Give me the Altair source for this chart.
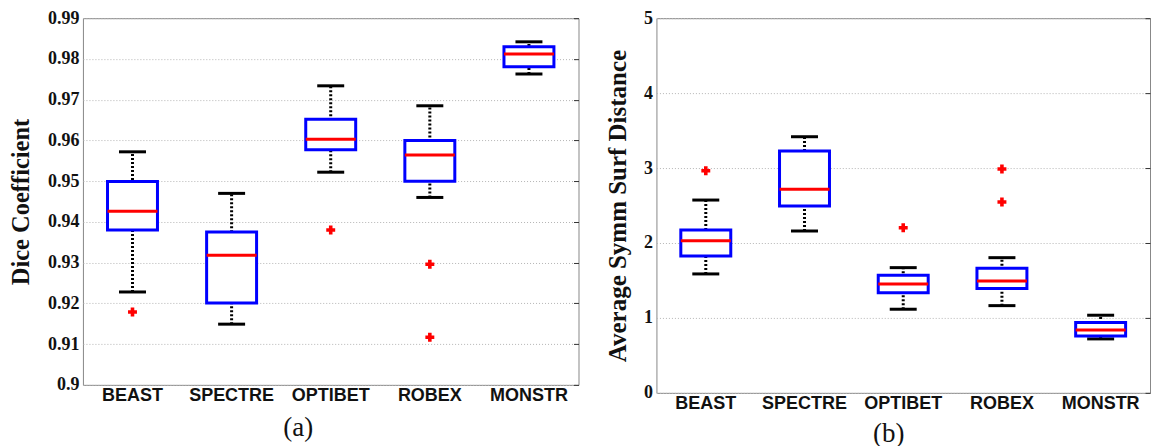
import altair as alt
import pandas as pd

methods = ["BEAST", "SPECTRE", "OPTIBET", "ROBEX", "MONSTR"]

# (a) Dice coefficient
dice_lo = [0.9228, 0.9149, 0.9522, 0.9460, 0.9763]
dice_q1 = [0.9380, 0.9201, 0.9577, 0.9500, 0.9781]
dice_med = [0.9426, 0.9318, 0.9603, 0.9564, 0.9812]
dice_q3 = [0.9499, 0.9375, 0.9652, 0.9600, 0.9830]
dice_hi = [0.9572, 0.9470, 0.9734, 0.9685, 0.9842]
dice_out_m = ["BEAST", "OPTIBET", "ROBEX", "ROBEX"]
dice_out_v = [0.9179, 0.9380, 0.9296, 0.9117]
dice_ticks = [0.90, 0.91, 0.92, 0.93, 0.94, 0.95, 0.96, 0.97, 0.98, 0.99]

# (b) Average symmetric surface distance
assd_lo = [1.587, 2.160, 1.116, 1.164, 0.720]
assd_q1 = [1.827, 2.493, 1.337, 1.391, 0.760]
assd_med = [2.031, 2.716, 1.453, 1.493, 0.840]
assd_q3 = [2.173, 3.227, 1.569, 1.662, 0.938]
assd_hi = [2.573, 3.418, 1.671, 1.804, 1.036]
assd_out_m = ["BEAST", "OPTIBET", "ROBEX", "ROBEX"]
assd_out_v = [2.964, 2.204, 2.987, 2.547]
assd_ticks = [0, 1, 2, 3, 4, 5]

SERIF = "Liberation Serif"
SANS = "Liberation Sans"


def panel(lo, q1, med, q3, hi, out_m, out_v, domain, ticks, fmt, ytitle, xtitle,
          width, height, title_x, ytitle_size, ytitle_pad, xlab_pad, xtitle_pad):
    box = pd.DataFrame({"m": methods, "lo": lo, "q1": q1, "med": med, "q3": q3, "hi": hi})
    outs = pd.DataFrame({"m": out_m, "v": out_v})
    tickdf = pd.DataFrame({"t": ticks})
    xenc = alt.X("m:N", sort=methods,
                 scale=alt.Scale(paddingInner=0, paddingOuter=0, domain=methods),
                 axis=alt.Axis(title=xtitle, labelAngle=0, labelFont=SANS, labelFontWeight="bold",
                               labelFontSize=18, labelColor="#111", labelPadding=xlab_pad,
                               ticks=False, domain=False, titleFont=SERIF, titleFontSize=27,
                               titleFontWeight="normal", titleColor="#111",
                               titlePadding=xtitle_pad, titleX=title_x, titleAlign="center"))
    yscale = alt.Scale(domain=domain, nice=False, zero=False)
    yaxis = alt.Axis(title=ytitle, values=ticks, format=fmt, labelFont=SERIF, labelFontWeight="bold",
                     labelFontSize=18, labelColor="#111", labelPadding=4, ticks=False, domain=False,
                     grid=True, gridDash=[1, 2], gridColor="#b5b5b5", gridWidth=1,
                     titleFont=SERIF, titleFontSize=ytitle_size, titleFontWeight="bold",
                     titleColor="#111", titlePadding=ytitle_pad)
    base = alt.Chart(box).encode(x=xenc)
    whisk = base.mark_rule(color="black", strokeWidth=3, strokeDash=[2, 2]).encode(
        y=alt.Y("lo:Q", scale=yscale, axis=yaxis), y2="hi:Q")
    cap_lo = base.mark_tick(color="black", size=27, thickness=3, opacity=1).encode(y="lo:Q")
    cap_hi = base.mark_tick(color="black", size=27, thickness=3, opacity=1).encode(y="hi:Q")
    rect = base.mark_bar(size=50, fill="white", stroke="#0000ff", strokeWidth=3).encode(
        y="q1:Q", y2="q3:Q")
    medl = base.mark_tick(color="#ff0000", size=50, thickness=3, opacity=1).encode(y="med:Q")
    pts = alt.Chart(outs).mark_point(shape="cross", filled=True, color="#ff0000", size=80,
                                     opacity=1).encode(
        x=alt.X("m:N", sort=methods), y="v:Q")
    # inward tick marks on the right border (MATLAB style)
    rticks = alt.Chart(tickdf).mark_rule(opacity=0).encode(
        y=alt.Y("t:Q", scale=yscale,
                axis=alt.Axis(orient="right", values=ticks, labels=False, title=None, grid=False,
                              domain=False, ticks=True, tickSize=5, tickColor="#333",
                              tickWidth=1, offset=-5)))
    main = alt.layer(whisk, cap_lo, cap_hi, rect, medl, pts)
    return alt.layer(main, rticks).resolve_axis(y="independent").properties(
        width=width, height=height)


left = panel(dice_lo, dice_q1, dice_med, dice_q3, dice_hi, dice_out_m, dice_out_v,
             [0.9, 0.99], dice_ticks, ".2~f", "Dice Coefficient", "(a)",
             496, 367, 215, 24.5, 14, 2, 10)
right = panel(assd_lo, assd_q1, assd_med, assd_q3, assd_hi, assd_out_m, assd_out_v,
              [0, 5], assd_ticks, "d", "Average Symm Surf Distance", "(b)",
              494, 375, 232, 25, 13, 2, 8)

chart = alt.hconcat(left, right, spacing=25).configure_view(
    stroke="#888888", strokeWidth=1
).properties(padding={"left": 0, "top": 0, "right": 0, "bottom": 0}, background="white")

chart.save("out.html", embed_options={"renderer": "svg", "actions": False})
